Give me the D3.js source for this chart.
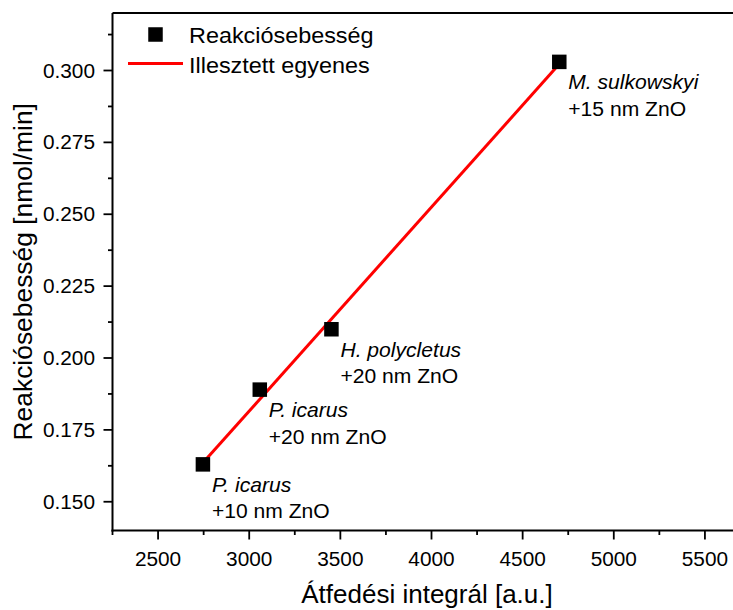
<!DOCTYPE html>
<html>
<head>
<meta charset="utf-8">
<script src="https://cdn.jsdelivr.net/npm/d3@7"></script>
<style>
  body { margin: 0; background: #fff; }
  svg { display: block; font-family: Arial, "Liberation Sans", sans-serif; }
</style>
</head>
<body>
<svg></svg>
<script>
// Reaction rate vs overlap integral, with least-squares fit
const width = 733;
const height = 610;

const overlap = [2746, 3058, 3451, 4701];
const rate = [0.163, 0.189, 0.210, 0.303];
const species = ["P. icarus", "P. icarus", "H. polycletus", "M. sulkowskyi"];
const coating = ["+10 nm ZnO", "+20 nm ZnO", "+20 nm ZnO", "+15 nm ZnO"];

const xTicks = [2500, 3000, 3500, 4000, 4500, 5000, 5500];
const xMinor = [2250, 2750, 3250, 3750, 4250, 4750, 5250, 5750];
const yTicks = [0.150, 0.175, 0.200, 0.225, 0.250, 0.275, 0.300];
const yMinor = [0.1625, 0.1875, 0.2125, 0.2375, 0.2625, 0.2875, 0.3125];

const legendLabels = ["Reakciósebesség", "Illesztett egyenes"];

const svg = d3.select("svg")
    .attr("width", width)
    .attr("height", height)
    .attr("viewBox", `0 0 ${width} ${height}`);

svg.append("rect").attr("width", width).attr("height", height).attr("fill", "#fff");

const x = d3.scaleLinear().domain([2250, 5750]).range([112.5, 750.5]);
const y = d3.scaleLinear().domain([0.14, 0.32]).range([530.5, 13]);

const sx = 1.04; // glyphs in the original are slightly wider than Arial

function label(g, px, py, txt, size, anchor, italic) {
    return g.append("g")
        .attr("transform", `translate(${px},${py}) scale(${sx},1)`)
        .append("text")
        .attr("font-size", size)
        .attr("text-anchor", anchor || "start")
        .attr("font-style", italic ? "italic" : null)
        .attr("fill", "#000")
        .text(txt);
}

// frame (top and right edges)
svg.append("path")
    .attr("d", `M${x.range()[0]},${y.range()[1]}H${x.range()[1]}V${y.range()[0]}`)
    .attr("fill", "none").attr("stroke", "#000").attr("stroke-width", 2);

// x axis
const xAxis = svg.append("g");
xAxis.append("line")
    .attr("x1", x.range()[0] - 1).attr("x2", x.range()[1])
    .attr("y1", y.range()[0]).attr("y2", y.range()[0])
    .attr("stroke", "#000").attr("stroke-width", 2);
xAxis.selectAll(".maj").data(xTicks).enter().append("line")
    .attr("x1", d => x(d)).attr("x2", d => x(d))
    .attr("y1", y.range()[0]).attr("y2", y.range()[0] + 9)
    .attr("stroke", "#000").attr("stroke-width", 1.8);
xAxis.selectAll(".min").data(xMinor).enter().append("line")
    .attr("x1", d => x(d)).attr("x2", d => x(d))
    .attr("y1", y.range()[0]).attr("y2", y.range()[0] + 4.5)
    .attr("stroke", "#000").attr("stroke-width", 1.8);
xTicks.forEach(t => label(xAxis, x(t), 566, d3.format("d")(t), 20, "middle"));

// y axis
const yAxis = svg.append("g");
yAxis.append("line")
    .attr("x1", x.range()[0]).attr("x2", x.range()[0])
    .attr("y1", y.range()[1]).attr("y2", y.range()[0] + 1)
    .attr("stroke", "#000").attr("stroke-width", 2);
yAxis.selectAll(".maj").data(yTicks).enter().append("line")
    .attr("x1", x.range()[0]).attr("x2", x.range()[0] - 9)
    .attr("y1", d => y(d)).attr("y2", d => y(d))
    .attr("stroke", "#000").attr("stroke-width", 1.8);
yAxis.selectAll(".min").data(yMinor).enter().append("line")
    .attr("x1", x.range()[0]).attr("x2", x.range()[0] - 4.5)
    .attr("y1", d => y(d)).attr("y2", d => y(d))
    .attr("stroke", "#000").attr("stroke-width", 1.8);
yTicks.forEach(t => label(yAxis, 95, y(t) + 7, d3.format(".3f")(t), 20, "end"));

// axis titles
label(svg, 427, 603, "Átfedési integrál [a.u.]", 25, "middle");
svg.append("text")
    .attr("transform", `translate(32,${(y.range()[0] + y.range()[1]) / 2}) rotate(-90)`)
    .attr("font-size", 26.4)
    .attr("text-anchor", "middle")
    .text("Reakciósebesség [nmol/min]");

// least-squares line
const mx = d3.mean(overlap), my = d3.mean(rate);
const slope = d3.sum(overlap, (v, i) => (v - mx) * (rate[i] - my)) /
    d3.sum(overlap, v => (v - mx) * (v - mx));
const icpt = my - slope * mx;
const ends = d3.extent(overlap);
svg.append("path")
    .attr("d", d3.line()(ends.map(v => [x(v), y(icpt + slope * v)])))
    .attr("stroke", "#ff0000").attr("stroke-width", 3).attr("fill", "none");

// points
const sq = 14.5;
svg.append("g").selectAll("rect").data(overlap).enter().append("rect")
    .attr("x", d => x(d) - sq / 2)
    .attr("y", (d, i) => y(rate[i]) - sq / 2)
    .attr("width", sq).attr("height", sq)
    .attr("fill", "#000");

// point annotations
const notes = svg.append("g");
overlap.forEach((v, i) => {
    label(notes, x(v) + 9, y(rate[i]) + 27.5, species[i], 20.3, "start", true);
    label(notes, x(v) + 9, y(rate[i]) + 54, coating[i], 20.3, "start");
});

// legend
const leg = svg.append("g");
leg.append("rect").attr("x", 155.5 - sq / 2).attr("y", 34.5 - sq / 2)
    .attr("width", sq).attr("height", sq).attr("fill", "#000");
leg.append("line").attr("x1", 128).attr("x2", 183).attr("y1", 63.5).attr("y2", 63.5)
    .attr("stroke", "#ff0000").attr("stroke-width", 3);
label(leg, 189, 42.5, legendLabels[0], 22.5, "start");
label(leg, 189, 72.5, legendLabels[1], 22.5, "start");
</script>
</body>
</html>
